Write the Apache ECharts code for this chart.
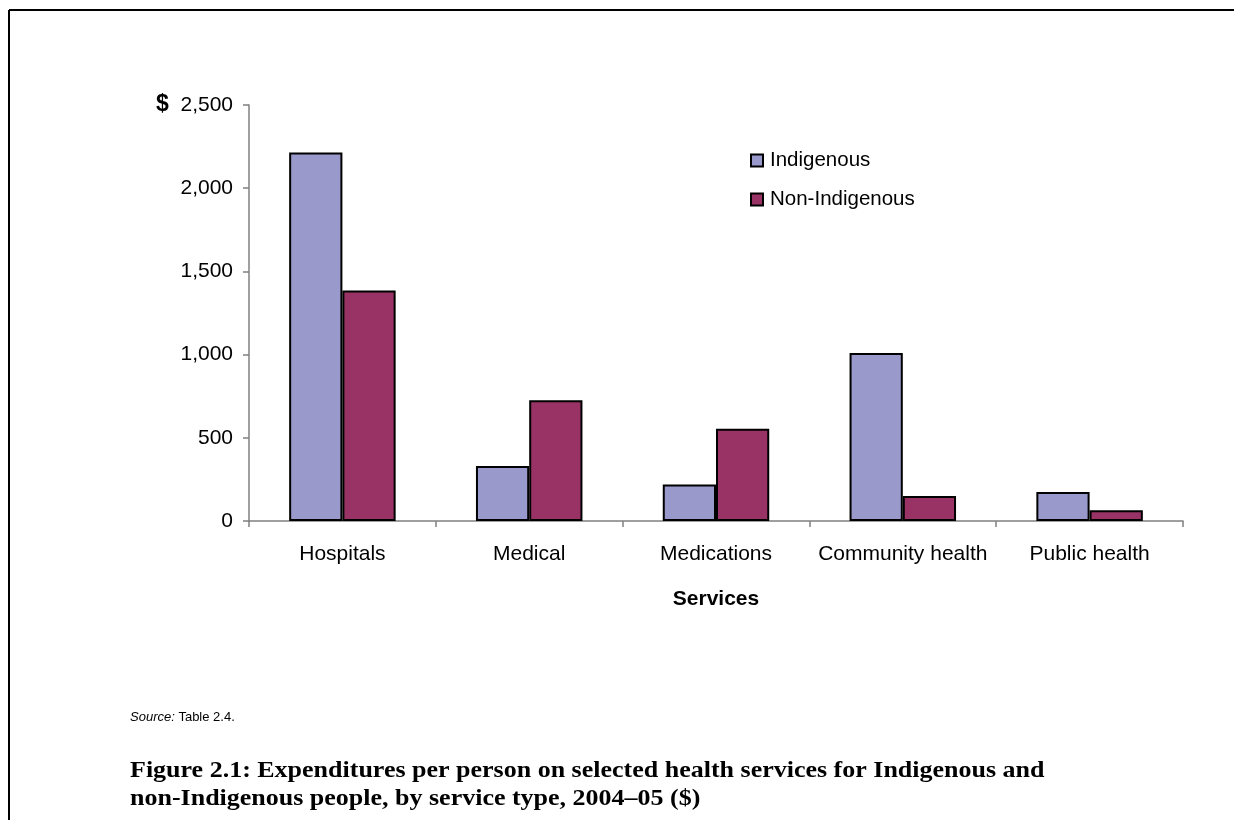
<!DOCTYPE html>
<html>
<head>
<meta charset="utf-8">
<script src="https://cdn.jsdelivr.net/npm/echarts@6/dist/echarts.min.js"></script>
<style>
html,body{margin:0;padding:0;background:#fff;}
#c{width:1234px;height:820px;}
</style>
</head>
<body>
<div id="c"></div>
<script>
const categories = ['Hospitals', 'Medical', 'Medications', 'Community health', 'Public health'];
const indigenous = [2215, 330, 220, 1010, 175];
const nonIndigenous = [1385, 725, 555, 150, 65];
const seriesNames = ['Indigenous', 'Non-Indigenous'];
const yTicks = [0, 500, 1000, 1500, 2000, 2500];
const xAxisTitle = 'Services';
const sourceText = 'Table 2.4.';
const titleLines = ['Figure 2.1: Expenditures per person on selected health services for Indigenous and', 'non-Indigenous people, by service type, 2004\u201305 ($)'];

const chart = echarts.init(document.getElementById('c'), null, {renderer: 'canvas'});
const font = 'Liberation Sans, Arial, sans-serif';
const fmt = v => v.toLocaleString('en-US');

chart.setOption({
  animation: false,
  backgroundColor: '#fff',
  textStyle: {fontFamily: font},
  grid: {left: 249, right: 51, top: 105, bottom: 299, containLabel: false},
  legend: {
    orient: 'vertical',
    left: 745,
    top: 145,
    itemWidth: 12,
    itemHeight: 12,
    itemGap: 18,
    icon: 'rect',
    textStyle: {fontFamily: font, fontSize: 20.5, color: '#000', padding: [0, 0, 0, 2]},
    data: seriesNames
  },
  xAxis: {
    type: 'category',
    data: categories,
    name: xAxisTitle,
    nameLocation: 'middle',
    nameGap: 68,
    nameTextStyle: {fontFamily: font, fontSize: 21, fontWeight: 'bold', color: '#000'},
    axisLine: {lineStyle: {color: '#808080', width: 1.5}},
    axisTick: {show: true, length: 6, lineStyle: {color: '#808080', width: 1.5}},
    axisLabel: {fontFamily: font, fontSize: 21, color: '#000', margin: 23, interval: 0}
  },
  yAxis: {
    type: 'value',
    min: yTicks[0],
    max: yTicks[yTicks.length - 1],
    interval: 500,
    splitLine: {show: false},
    axisLine: {show: true, lineStyle: {color: '#808080', width: 1.5}},
    axisTick: {show: true, length: 6, lineStyle: {color: '#808080', width: 1.5}},
    axisLabel: {
      fontFamily: font, fontSize: 21, color: '#000', margin: 16,
      formatter: v => v === 2500 ? '{d|$}  ' + fmt(v) : fmt(v),
      rich: {d: {fontFamily: font, fontSize: 23, fontWeight: 'bold', color: '#000'}}
    }
  },
  series: [
    {
      name: seriesNames[0], type: 'bar', data: indigenous,
      barGap: '0%', barCategoryGap: '43%',
      itemStyle: {color: '#9999CC', borderColor: '#000', borderWidth: 2}
    },
    {
      name: seriesNames[1], type: 'bar', data: nonIndigenous,
      itemStyle: {color: '#993366', borderColor: '#000', borderWidth: 2}
    }
  ],
  graphic: [
    {type: 'line', shape: {x1: 9, y1: 10, x2: 1234, y2: 10}, style: {stroke: '#000', lineWidth: 2}},
    {type: 'line', shape: {x1: 9, y1: 10, x2: 9, y2: 820}, style: {stroke: '#000', lineWidth: 2}},
    {type: 'text', x: 130, y: 711, style: {
      text: '{i|Source:} ' + sourceText,
      rich: {i: {fontFamily: font, fontSize: 13, fontStyle: 'italic', fill: '#000'}},
      fontFamily: font, fontSize: 13, fill: '#000'}},
    {type: 'text', x: 130, y: 757, scaleX: 1.13, scaleY: 1, style: {
      x: 0, y: 0,
      text: titleLines.join('\n'),
      fontFamily: 'Liberation Serif, serif', fontSize: 23, fontWeight: 'bold', fill: '#000', lineHeight: 28}}
  ]
});
</script>
</body>
</html>
